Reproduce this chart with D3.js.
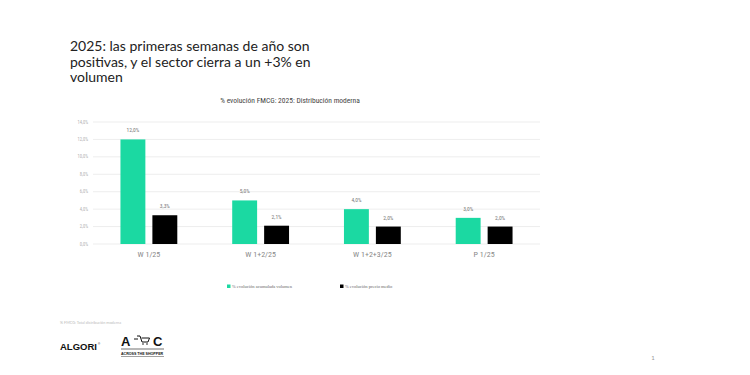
<!DOCTYPE html>
<html>
<head>
<meta charset="utf-8">
<script src="https://cdn.jsdelivr.net/npm/d3@7"></script>
<style>
    body { margin: 0; background: #fff; }
    svg { display: block; }
    .cond { font-family: "Liberation Sans Narrow", "Roboto Condensed", "DejaVu Sans Condensed", sans-serif; font-stretch: condensed; font-weight: normal; }
</style>
</head>
<body>
<div id="chart"></div>
<script>
// chart data
var categories = ["W 1/25", "W 1+2/25", "W 1+2+3/25", "P 1/25"];
var seriesNames = ["% evolución acumulada volumen", "% evolución precio medio"];
var volumen = [12.0, 5.0, 4.0, 3.0];
var precio = [3.3, 2.1, 2.0, 2.0];
var yTicks = [0, 2, 4, 6, 8, 10, 12, 14];
var colors = ["#1bd9a2", "#000000"];

var width = 750,
    height = 375;

var svg = d3.select("#chart")
    .append("svg")
    .attr("width", width)
    .attr("height", height);

// slide title
var title = svg.append("text")
    .attr("x", 70)
    .attr("y", 51)
    .attr("fill", "#222")
    .style("font-family", "Lato, 'Open Sans', sans-serif")
    .style("font-size", "14px");
["2025: las primeras semanas de año son", "positivas, y el sector cierra a un +3% en", "volumen"]
    .forEach(function(line, i) {
        title.append("tspan").attr("x", 70).attr("dy", i ? 15.5 : 0).text(line);
    });

// chart title
svg.append("text")
    .attr("class", "cond")
    .attr("x", 290)
    .attr("y", 103)
    .attr("text-anchor", "middle")
    .attr("fill", "#444")
    .style("font-size", "7.5px")
    .text("% evolución FMCG: 2025: Distribución moderna");

// scales
var x0 = d3.scaleBand()
    .domain(categories)
    .range([93, 540]);

var x1 = d3.scaleBand()
    .domain([0, 1])
    .range([0, x0.bandwidth()])
    .paddingInner(0.22)
    .paddingOuter(0.86);

var y = d3.scaleLinear()
    .domain([0, 14])
    .range([244, 122]);

// gridlines
svg.append("g")
    .selectAll("line")
    .data(yTicks)
    .enter()
    .append("line")
    .attr("x1", 93)
    .attr("x2", 540)
    .attr("y1", function(d) { return y(d); })
    .attr("y2", function(d) { return y(d); })
    .attr("stroke", "#e8e8e8")
    .attr("stroke-width", 0.8);

var fmt = function(v) { return v.toFixed(1).replace(".", ",") + "%"; };

// y tick labels
svg.append("g")
    .selectAll("text")
    .data(yTicks)
    .enter()
    .append("text")
    .attr("class", "cond")
    .attr("x", 88)
    .attr("y", function(d) { return y(d) + 1.5; })
    .attr("text-anchor", "end")
    .attr("fill", "#b0b0b0")
    .style("font-size", "4.5px")
    .text(fmt);

// bars
var rows = categories.map(function(c, i) {
    return { cat: c, values: [volumen[i], precio[i]] };
});

var groups = svg.append("g")
    .selectAll("g")
    .data(rows)
    .enter()
    .append("g")
    .attr("transform", function(d) { return "translate(" + x0(d.cat) + ",0)"; });

groups.selectAll("rect")
    .data(function(d) { return d.values; })
    .enter()
    .append("rect")
    .attr("x", function(d, i) { return x1(i); })
    .attr("y", function(d) { return y(d); })
    .attr("width", x1.bandwidth())
    .attr("height", function(d) { return y(0) - y(d); })
    .attr("fill", function(d, i) { return colors[i]; });

groups.selectAll("text.val")
    .data(function(d) { return d.values; })
    .enter()
    .append("text")
    .attr("class", "cond val")
    .attr("x", function(d, i) { return x1(i) + x1.bandwidth() / 2; })
    .attr("y", function(d) { return y(d) - 7; })
    .attr("text-anchor", "middle")
    .attr("fill", "#777")
    .style("font-size", "5.5px")
    .text(fmt);

// x labels
svg.append("g")
    .selectAll("text")
    .data(categories)
    .enter()
    .append("text")
    .attr("class", "cond")
    .attr("x", function(d) { return x0(d) + x0.bandwidth() / 2; })
    .attr("y", 257)
    .attr("text-anchor", "middle")
    .attr("fill", "#888")
    .style("font-size", "8px")
    .text(function(d) { return d; });

// legend
var legendX = [227, 340];
var legend = svg.append("g")
    .selectAll("g")
    .data(seriesNames)
    .enter()
    .append("g")
    .attr("transform", function(d, i) { return "translate(" + legendX[i] + ",287)"; });

legend.append("rect")
    .attr("x", 0)
    .attr("y", -2.5)
    .attr("width", 3.5)
    .attr("height", 3.5)
    .attr("fill", function(d, i) { return colors[i]; });

legend.append("text")
    .attr("x", 5)
    .attr("y", 1.2)
    .attr("fill", "#666")
    .style("font-family", "'Liberation Serif', serif")
    .style("font-size", "4.5px")
    .text(function(d) { return d; });

// footnote
svg.append("text")
    .attr("x", 60)
    .attr("y", 324)
    .attr("fill", "#bbb")
    .style("font-family", "Lato, sans-serif")
    .style("font-size", "3.8px")
    .text("% FMCG: Total distribución moderna");

// logos
svg.append("text")
    .attr("x", 60)
    .attr("y", 350)
    .attr("fill", "#111")
    .style("font-family", "'Liberation Sans', Arial, sans-serif")
    .style("font-weight", "bold")
    .style("font-size", "9.5px")
    .text("ALGORI");
svg.append("text")
    .attr("x", 98)
    .attr("y", 345)
    .attr("fill", "#111")
    .style("font-family", "'Liberation Sans', sans-serif")
    .style("font-size", "3px")
    .text("®");

var acr = svg.append("g").attr("fill", "#111")
    .style("font-family", "'Liberation Sans', Arial, sans-serif")
    .style("font-weight", "bold");
acr.append("text").attr("x", 121).attr("y", 346).style("font-size", "13px").text("A");
acr.append("text").attr("x", 153).attr("y", 346).style("font-size", "13px").text("C");
// small cart mark between the letters
acr.append("path")
    .attr("d", "M134,339 h4 M137,336 l3,0 l2,6 h6 l1.5,-4 h-8")
    .attr("fill", "none")
    .attr("stroke", "#111")
    .attr("stroke-width", 1);
acr.append("circle").attr("cx", 143).attr("cy", 344).attr("r", 0.8);
acr.append("circle").attr("cx", 147).attr("cy", 344).attr("r", 0.8);
acr.append("line")
    .attr("x1", 121).attr("x2", 164).attr("y1", 349).attr("y2", 349)
    .attr("stroke", "#111").attr("stroke-width", 0.6);
acr.append("text").attr("x", 121).attr("y", 354.5).style("font-size", "3.6px").text("ACROSS THE SHOPPER");
acr.append("line")
    .attr("x1", 121).attr("x2", 164).attr("y1", 356.5).attr("y2", 356.5)
    .attr("stroke", "#111").attr("stroke-width", 0.4);

// page number
svg.append("text")
    .attr("x", 653)
    .attr("y", 360)
    .attr("text-anchor", "middle")
    .attr("fill", "#999")
    .style("font-family", "Lato, sans-serif")
    .style("font-size", "6px")
    .text("1");
</script>
</body>
</html>
